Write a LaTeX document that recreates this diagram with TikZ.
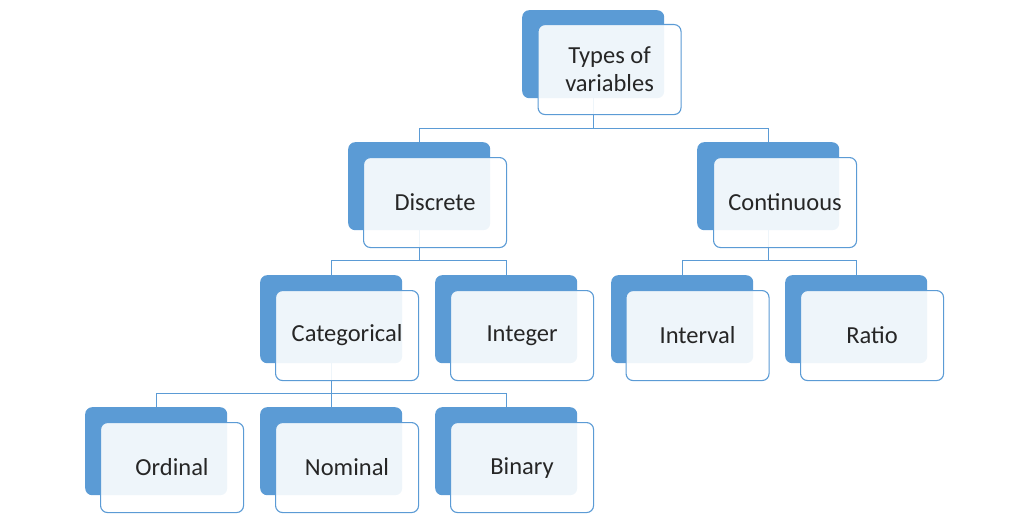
\documentclass[tikz,border=0pt]{standalone}
\usepackage{fontspec}
\setmainfont{Carlito}
\definecolor{accent}{HTML}{5B9BD5}
\definecolor{txt}{HTML}{262626}
\begin{document}
\begin{tikzpicture}[x=1pt,y=-1pt,
  backbox/.style={fill=accent, draw=none, rounded corners=7pt, minimum width=142pt, minimum height=88pt, anchor=north west, inner sep=0pt},
  frontbox/.style={fill=white, fill opacity=0.9, text opacity=1, draw=accent, line width=1.1pt, rounded corners=7pt, minimum width=143pt, minimum height=90pt, anchor=north west, inner sep=0pt, align=center, text=txt, font=\fontsize{24.5}{28}\selectfont},
  link/.style={draw=accent, line width=1.2pt}]
\useasboundingbox (0,0) rectangle (1016,519);
% back boxes
\node[backbox] (tyb) at (522,10) {};
\node[backbox] (dib) at (348,142) {};
\node[backbox] (cob) at (697,142) {};
\node[backbox] (cab) at (260,275) {};
\node[backbox] (inb) at (435,275) {};
\node[backbox] (ivb) at (611,275) {};
\node[backbox] (rab) at (785,275) {};
\node[backbox] (orb) at (85,407) {};
\node[backbox] (nob) at (260,407) {};
\node[backbox] (bib) at (435,407) {};
% connectors
\draw[link] (tyb.south) -- ++(0,30) -| (dib.north);
\draw[link] (tyb.south) -- ++(0,30) -| (cob.north);
\draw[link] (dib.south) -- ++(0,30) -| (cab.north);
\draw[link] (dib.south) -- ++(0,30) -| (inb.north);
\draw[link] (cob.south) -- ++(0,30) -| (ivb.north);
\draw[link] (cob.south) -- ++(0,30) -| (rab.north);
\draw[link] (cab.south) -- ++(0,30) -| (orb.north);
\draw[link] (cab.south) -- ++(0,30) -| (nob.north);
\draw[link] (cab.south) -- ++(0,30) -| (bib.north);
% front boxes
\node[frontbox] (ty) at (537.5,24) {Types of\\variables};
\node[frontbox] (di) at (363,157) {Discrete};
\node[frontbox] (co) at (713,157) {Continuous};
\node[frontbox] (ca) at (275,290) {Categorical};
\node[frontbox] (in) at (450,290) {Integer};
\node[frontbox] (iv) at (625.5,290) {Interval};
\node[frontbox] (ra) at (800,290) {Ratio};
\node[frontbox] (or) at (100,422) {Ordinal};
\node[frontbox] (no) at (275,422) {Nominal};
\node[frontbox] (bi) at (450,422) {Binary};
\end{tikzpicture}
\end{document}
